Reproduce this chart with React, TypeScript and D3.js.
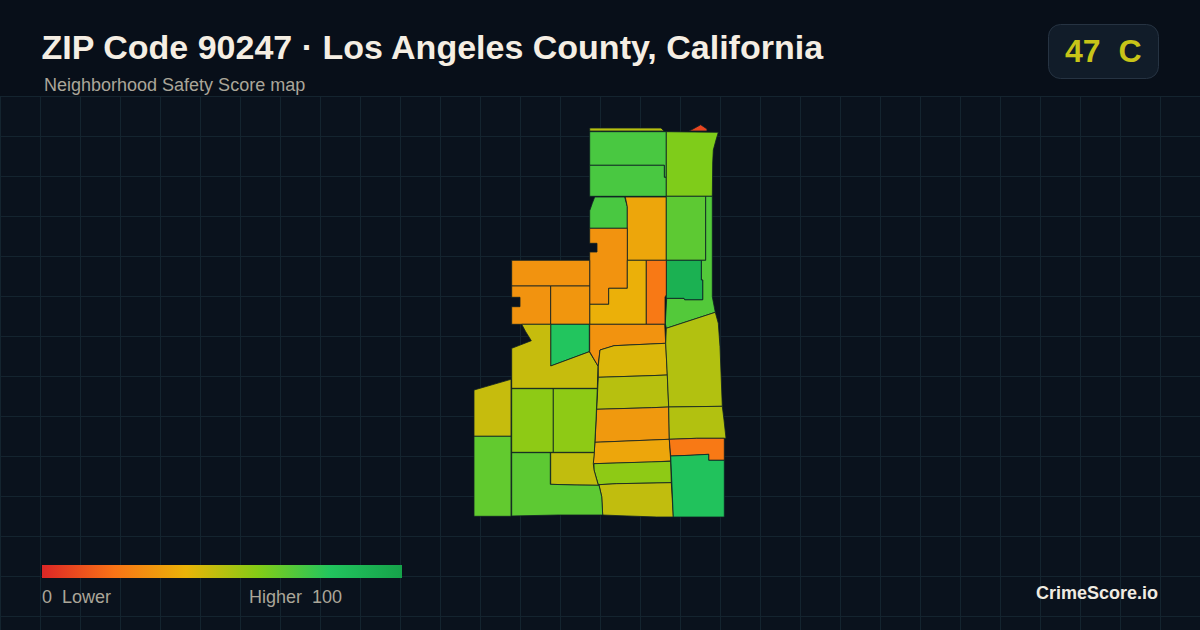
import React from 'react';
import * as d3 from 'd3';

type Pt = [number, number];

// legend colour ramp
const rampStops = [0, 20, 40, 60, 80, 100];
const rampColors = ['#dc2626', '#f97316', '#eab308', '#84cc16', '#22c55e', '#16a34a'];

// tract safety scores
const tractScores = [
  50, 8, 72, 72, 61, 72, 36, 68, 70, 92, 30, 39, 22, 30, 30, 31, 80, 47, 30, 43, 50, 32, 36, 58, 48, 51, 51, 22, 82, 47,
  67, 58, 58, 48, 68,
];

// tract outlines in map units (x east, y south)
const tractRings: Pt[][] = [
  [[119.7, 8], [191, 8], [194, 11], [119.7, 11]],
  [[219, 11], [223, 9], [230.7, 4.7], [237, 9], [237, 11]],
  [[119.7, 11.7], [196.3, 11.7], [196.3, 57.3], [194.3, 57.3], [194.3, 45.3], [119.7, 45.3]],
  [[119.7, 45.3], [194.3, 45.3], [194.3, 57.3], [196.3, 57.3], [196.3, 76.3], [119.7, 76.3]],
  [[196.3, 11.7], [248.3, 12.3], [246, 20], [243.3, 30], [242.7, 43], [242.3, 76.3], [196.3, 76.3]],
  [[124.7, 77], [154.7, 77], [157.3, 86.7], [157.3, 108.3], [119.7, 108.3], [119.7, 90.7], [122.3, 83.3]],
  [[155.3, 77], [196.3, 77], [196.3, 140.3], [157.3, 140.3], [157.3, 86.7]],
  [[196.3, 76.3], [235.7, 76.3], [235.7, 140.3], [196.3, 140.3]],
  [[235.7, 76.3], [242.3, 76.3], [242.3, 176.7], [245.3, 192.3], [196.3, 208.3], [195.3, 203.3], [196.7, 178.3], [214, 178.3], [214.7, 179.7], [232.7, 179.7], [232.7, 160], [231.3, 160], [231.3, 140.3], [235.7, 140.3]],
  [[196.3, 140.3], [231.3, 140.3], [231.3, 160], [232.7, 160], [232.7, 179.7], [214.7, 179.7], [214, 178.3], [196.3, 178.3]],
  [[119.7, 108.3], [157.3, 108.3], [157.3, 168.3], [138.7, 168.3], [138.7, 184.3], [119.7, 184.3], [119.7, 132], [127, 132], [127, 123.3], [119.7, 123.3]],
  [[157.3, 140.3], [176.3, 140.3], [176.3, 204.3], [119.7, 204.3], [119.7, 184.3], [138.7, 184.3], [138.7, 168.3], [157.3, 168.3]],
  [[176.3, 140.3], [196.3, 140.3], [196.3, 175], [195, 177], [195, 204.3], [176.3, 204.3]],
  [[41.7, 140.3], [119.7, 140.3], [119.7, 166], [41.7, 166]],
  [[41.7, 166], [80.7, 166], [80.7, 204.3], [41.7, 204.3], [41.7, 186.7], [50, 186.7], [50, 177.3], [41.7, 177.3]],
  [[80.7, 166], [119.7, 166], [119.7, 204.3], [80.7, 204.3]],
  [[80.7, 204.3], [119.3, 204.3], [119.3, 231.7], [80.7, 246]],
  [[51.7, 204.3], [80.7, 204.3], [80.7, 246], [119.3, 231.7], [128, 246], [127.3, 268.3], [41.7, 268.3], [41.7, 228.3], [61.3, 220.7], [55.7, 211.7]],
  [[119.7, 204.3], [194.7, 204.3], [195.7, 223.3], [144, 225.7], [130, 230], [128, 246], [119.7, 231.7]],
  [[130, 230], [144, 225.7], [195.7, 223.3], [197.3, 255], [180, 255.7], [128.3, 257.3], [128.3, 246]],
  [[128.3, 257.3], [180, 255.7], [197.3, 255], [198.7, 287], [181.7, 287.7], [126.7, 289.3]],
  [[126.7, 289.3], [181.7, 287.7], [198.7, 287], [199.3, 319.3], [125, 322.3]],
  [[125, 322.3], [199.3, 319.3], [200.7, 341], [181.7, 342], [123.3, 343.7]],
  [[124, 343.7], [200.7, 341.3], [201.3, 362.7], [146.7, 363.7], [128.3, 364.7], [124, 350]],
  [[129, 364.7], [146.7, 363.7], [201.3, 362.7], [203.3, 397], [186.7, 397], [150, 395.7], [132.7, 395], [131.7, 376.7]],
  [[196.3, 208.3], [245.3, 192.3], [248.3, 203.3], [250, 226.7], [252.3, 286.3], [198.7, 287], [197.3, 255], [195.7, 223.3]],
  [[198.7, 287], [252.3, 286.3], [254, 300], [256, 318.3], [226.7, 318.3], [199.3, 319.3]],
  [[199.3, 319.3], [226.7, 318.3], [254.3, 318.3], [254.3, 340.3], [238.7, 340.3], [238.7, 334.3], [220, 335.3], [200.7, 336]],
  [[200.7, 336], [220, 335.3], [238.7, 334.3], [238.7, 340.3], [254.3, 340.3], [254.3, 397], [203.3, 397]],
  [[4, 270], [41, 259.3], [41, 316.3], [4, 316.3]],
  [[4, 316.3], [41, 316.3], [41, 396.3], [4, 396.3]],
  [[41.7, 268.7], [83.3, 268.7], [83.3, 332.3], [41.7, 332.3]],
  [[83.3, 268.7], [127.3, 268.7], [126, 300], [124.3, 332.3], [83.3, 332.3]],
  [[80.7, 332.7], [124.3, 332.7], [123.3, 343.7], [124, 350], [128.3, 365.3], [105, 365], [80.7, 364.3]],
  [[41.7, 332.7], [80.3, 332.7], [80.3, 364.3], [105, 365], [129, 365.3], [131.7, 376.7], [132.7, 395], [88, 395], [41.7, 396]],
];

const titleText = 'ZIP Code 90247 · Los Angeles County, California';
const subtitleText = 'Neighborhood Safety Score map';
const overallScore = 47;
const overallGrade = 'C';
const lowLabel = '0  Lower';
const highLabel = 'Higher  100';
const brandText = 'CrimeScore.io';

const WIDTH = 1200;
const HEIGHT = 630;
const BG = '#0a121d';
const HEADER_BG = '#080f19';
const FONT = '"Liberation Sans", Arial, sans-serif';

const colorScale = d3.scaleLinear<string>().domain(rampStops).range(rampColors).interpolate(d3.interpolateRgb);

// map units sit 470/120 px from the page corner
const xMap = d3.scaleLinear().domain([0, 260]).range([470, 730]);
const yMap = d3.scaleLinear().domain([0, 400]).range([120, 520]);
const ringPath = d3.line<Pt>().x(d => xMap(d[0])).y(d => yMap(d[1])).curve(d3.curveLinearClosed);

const legendX = d3.scaleLinear().domain([0, 100]).range([42, 402]);

const gridXs = d3.range(0, WIDTH + 1, 40);
const gridYs = d3.range(96, HEIGHT, 40);

const App: React.FC = () => {
  return (
    <svg
      width={WIDTH}
      height={HEIGHT}
      viewBox={`0 0 ${WIDTH} ${HEIGHT}`}
      style={{ position: 'absolute', left: 0, top: 0, display: 'block', fontFamily: FONT }}
    >
      <defs>
        <linearGradient id="ramp" x1="0" x2="1" y1="0" y2="0">
          {rampStops.map((s, i) => (
            <stop key={s} offset={`${s}%`} stopColor={rampColors[i]} />
          ))}
        </linearGradient>
      </defs>
      <rect width={WIDTH} height={HEIGHT} fill={BG} />
      <rect width={WIDTH} height={96} fill={HEADER_BG} />

      <g stroke="#14242f" strokeWidth={1}>
        {gridXs.map(x => (
          <line key={x} x1={x + 0.5} x2={x + 0.5} y1={96} y2={HEIGHT} />
        ))}
        {gridYs.map(y => (
          <line key={y} x1={0} x2={WIDTH} y1={y + 0.5} y2={y + 0.5} />
        ))}
      </g>

      <g>
        {tractRings.map((ring, i) => (
          <path
            key={i}
            d={ringPath(ring) || ''}
            fill={colorScale(tractScores[i])}
            stroke="#0f1f24"
            strokeWidth={0.8}
            strokeLinejoin="miter"
          />
        ))}
      </g>

      <text x={41.5} y={59} fontSize={34} fontWeight="bold" fill="#f5eee3">{titleText}</text>
      <text x={44} y={91} fontSize={18} fill="#aba699">{subtitleText}</text>

      <rect x={1048.5} y={24.5} width={110} height={54} rx={12} fill="#111c29" stroke="#263342" />
      <text x={1065} y={62} fontSize={32} fontWeight="bold" fill="#c8c418" style={{ whiteSpace: 'pre' }}>
        {`${overallScore}  ${overallGrade}`}
      </text>

      <rect
        x={legendX(0)}
        y={565}
        width={legendX(100) - legendX(0)}
        height={13}
        fill="url(#ramp)"
      />
      <text x={42} y={603} fontSize={18} fill="#aba699" style={{ whiteSpace: 'pre' }}>{lowLabel}</text>
      <text x={249} y={603} fontSize={18} fill="#aba699" style={{ whiteSpace: 'pre' }}>{highLabel}</text>

      <text x={1158} y={599} fontSize={18} fontWeight="bold" textAnchor="end" fill="#f0ebe2">{brandText}</text>
    </svg>
  );
};

export default App;
